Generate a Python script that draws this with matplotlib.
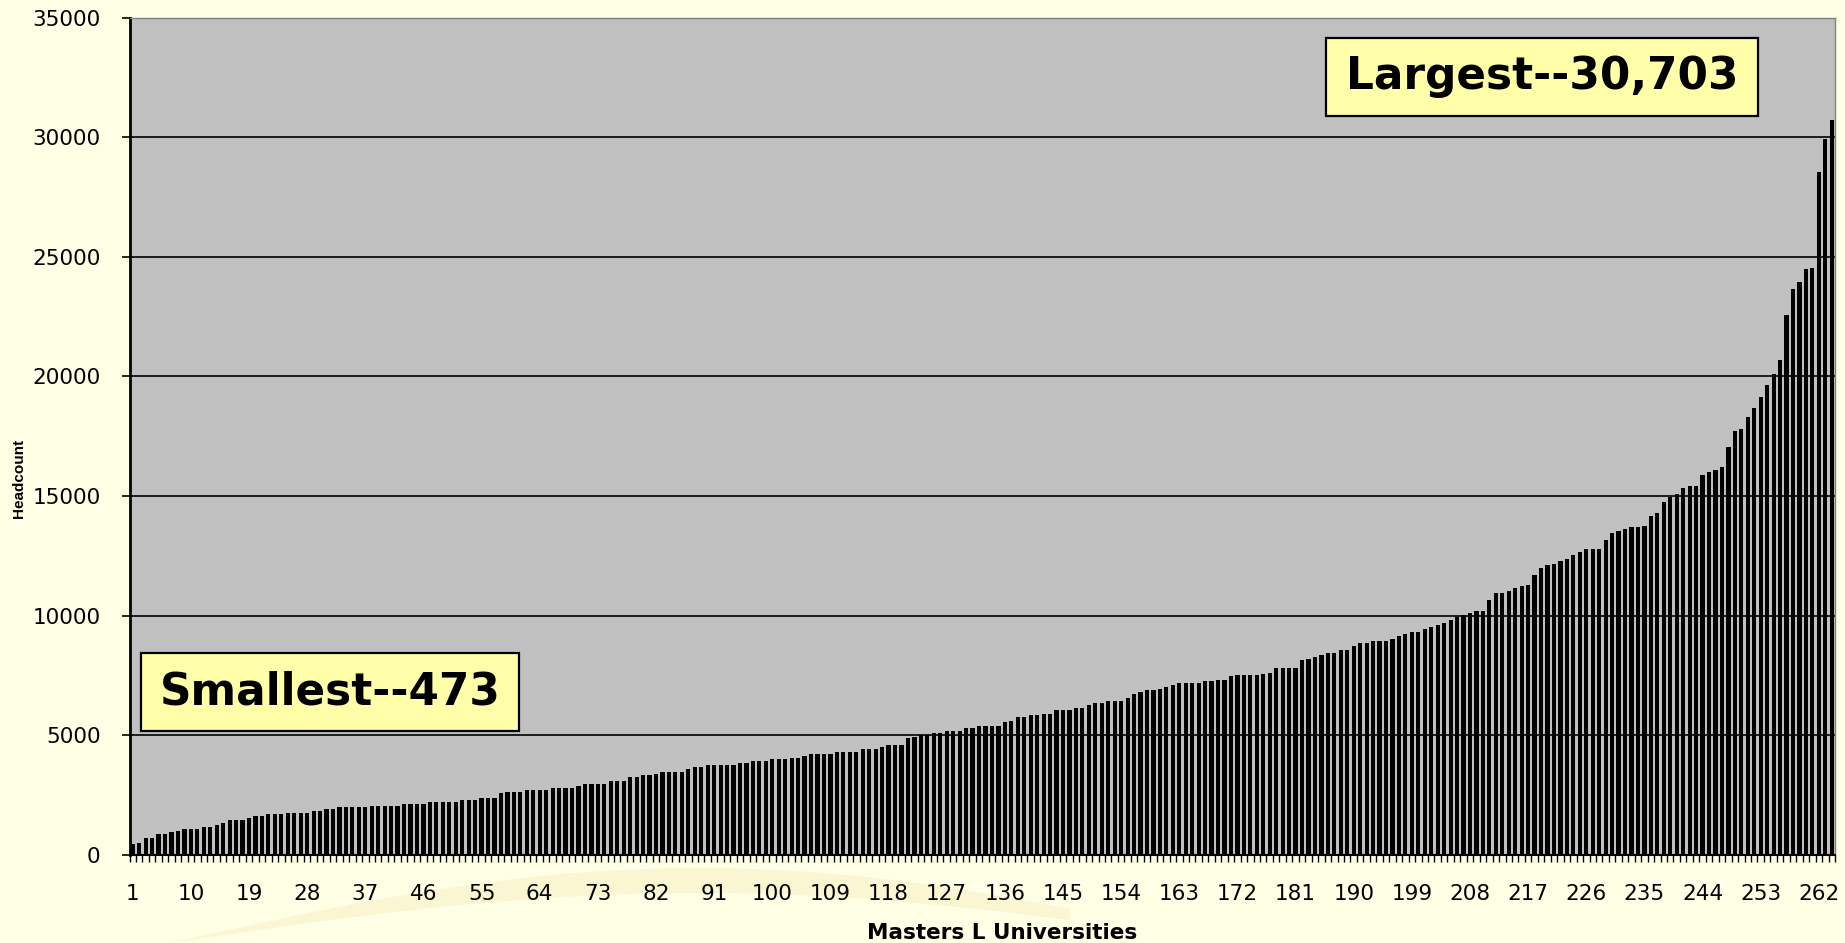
import matplotlib
matplotlib.use("Agg")
import matplotlib.pyplot as plt
from matplotlib.patches import Rectangle, Polygon
import numpy as np

plt.rcParams['font.family'] = ['DejaVu Sans']

# Fall headcount of Masters L universities, ranked smallest to largest
headcount = [
    473, 515, 724, 724, 878, 878, 947, 1017, 1100, 1100, 1100, 1184,
    1184, 1254, 1323, 1477, 1477, 1477, 1546, 1616, 1616, 1700, 1700, 1700,
    1769, 1769, 1769, 1769, 1839, 1839, 1908, 1908, 1992, 1992, 1992, 1992,
    1992, 2062, 2062, 2062, 2062, 2062, 2131, 2140, 2145, 2145, 2215, 2215,
    2215, 2215, 2215, 2285, 2285, 2285, 2368, 2368, 2368, 2577, 2647, 2647,
    2647, 2730, 2730, 2730, 2730, 2800, 2800, 2800, 2800, 2870, 2953, 2953,
    2953, 2953, 3093, 3093, 3093, 3246, 3246, 3330, 3330, 3399, 3469, 3469,
    3469, 3469, 3608, 3692, 3695, 3761, 3761, 3761, 3761, 3761, 3831, 3831,
    3914, 3914, 3914, 3998, 3998, 3998, 4068, 4068, 4137, 4207, 4207, 4207,
    4207, 4290, 4290, 4290, 4290, 4430, 4430, 4430, 4500, 4583, 4583, 4583,
    4876, 4945, 5015, 5029, 5084, 5084, 5182, 5182, 5182, 5321, 5321, 5391,
    5391, 5391, 5391, 5544, 5614, 5767, 5767, 5837, 5837, 5906, 5906, 6060,
    6060, 6060, 6129, 6129, 6282, 6352, 6352, 6436, 6436, 6436, 6575, 6714,
    6798, 6881, 6881, 6951, 7021, 7090, 7174, 7174, 7174, 7174, 7257, 7257,
    7327, 7327, 7466, 7536, 7536, 7536, 7536, 7550, 7620, 7829, 7829, 7829,
    7829, 8135, 8205, 8274, 8344, 8428, 8428, 8567, 8567, 8720, 8873, 8873,
    8943, 8943, 8943, 9013, 9152, 9250, 9319, 9319, 9458, 9528, 9612, 9681,
    9821, 9960, 10044, 10127, 10211, 10211, 10643, 10935, 10935, 11019, 11158, 11228,
    11297, 11687, 12000, 12134, 12162, 12302, 12372, 12526, 12679, 12805, 12805, 12805,
    13183, 13462, 13560, 13630, 13700, 13700, 13770, 14161, 14301, 14748, 14958, 15098,
    15350, 15420, 15420, 15867, 16007, 16076, 16230, 17055, 17726, 17796, 18313, 18691,
    19124, 19655, 20089, 20676, 22549, 23668, 23961, 24478, 24548, 28561, 29917, 30703,
]
universities = list(range(1, len(headcount) + 1))
x_tick_labels = [str(u) for u in universities[::9]]
y_ticks = [0, 5000, 10000, 15000, 20000, 25000, 30000, 35000]

smallest_label = "Smallest--473"
largest_label = "Largest--30,703"

W, H = 1845, 943
fig = plt.figure(figsize=(W / 100, H / 100), dpi=100, facecolor="#FFFFE6")


def fx(px):
    return px / W


def fy(py):
    return 1 - py / H


# faint decorative swoosh in the slide background, kept behind everything
t = np.linspace(0, 1, 60)
upper = [(fx(170 + 900 * s), fy(943 - 75 * np.sin(np.pi * s * 0.85))) for s in t]
lower = [(fx(170 + 900 * s), fy(943 - 50 * np.sin(np.pi * s * 0.85))) for s in t[::-1]]
fig.patches.append(Polygon(upper + lower, closed=True, transform=fig.transFigure,
                           facecolor="#F8EFC2", edgecolor="none", alpha=0.55, zorder=-5))

ax = fig.add_axes([fx(129.5), fy(855), fx(1835) - fx(129.5), fy(17.5) - fy(855)])
ax.set_zorder(1)
ax.set_facecolor("#C0C0C0")

ax.bar(universities, headcount, width=0.65, color="black", zorder=3)

ax.set_xlim(0.5, len(headcount) + 0.5)
ax.set_ylim(y_ticks[0], y_ticks[-1])
ax.set_yticks(y_ticks)
ax.set_yticklabels([str(t) for t in y_ticks])
ax.yaxis.grid(True, color="black", lw=1.2)
ax.set_axisbelow(True)

ax.set_xticks(universities[::9])
ax.set_xticklabels(x_tick_labels)
ax.set_xticks(np.arange(0.5, len(headcount) + 1, 1), minor=True)

ax.tick_params(axis="y", length=5.8, width=1.2, pad=15, labelsize=15.5,
               colors="black")
ax.tick_params(axis="x", which="major", length=0, pad=21, labelsize=15.5)
ax.tick_params(axis="x", which="minor", length=5, width=1.0, direction="out")

ax.spines["left"].set_color("black")
ax.spines["left"].set_linewidth(2.0)
ax.spines["bottom"].set_color("black")
ax.spines["bottom"].set_linewidth(1.5)
for side in ("top", "right"):
    ax.spines[side].set_color("#808080")
    ax.spines[side].set_linewidth(1.0)

fig.text(fx(1002), fy(933), "Masters L Universities", ha="center", va="center",
         fontsize=15.5, fontweight="bold", zorder=3)
fig.text(fx(19), fy(478), "Headcount", ha="center", va="center", rotation=90,
         fontsize=11, fontweight="bold", family=["Liberation Sans", "DejaVu Sans"],
         zorder=3)


def callout(x0, y0, x1, y1, text):
    fig.patches.append(Rectangle((fx(x0), fy(y1)), fx(x1) - fx(x0), fy(y0) - fy(y1),
                                 transform=fig.transFigure, facecolor="#FFFFAA",
                                 edgecolor="black", lw=1.6, zorder=5))
    fig.text(fx((x0 + x1) / 2), fy((y0 + y1) / 2), text, ha="center", va="center",
             fontsize=31.5, fontweight="bold", zorder=6)


callout(1326, 38, 1758, 116, largest_label)
callout(141, 653, 519, 731, smallest_label)

fig.savefig("out.png", dpi=100, facecolor=fig.get_facecolor())
